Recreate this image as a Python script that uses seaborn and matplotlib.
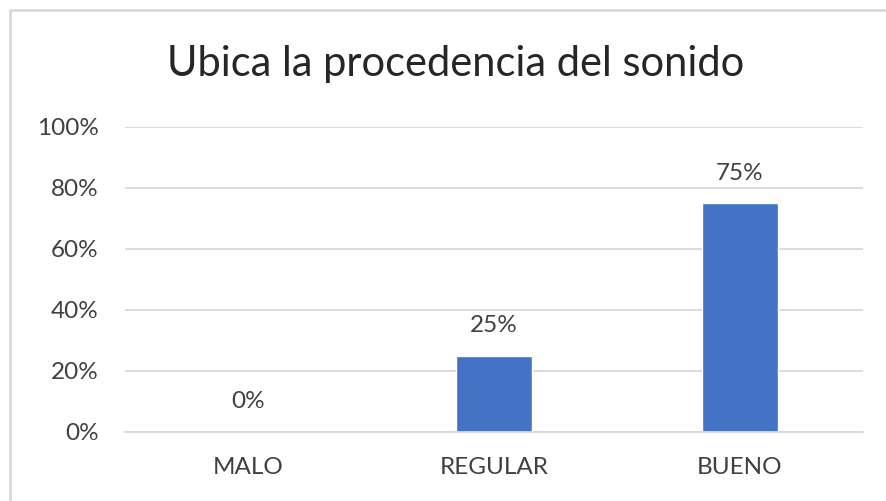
import matplotlib
matplotlib.use("Agg")
import matplotlib.pyplot as plt
import seaborn as sns
import pandas as pd
from matplotlib.lines import Line2D
from matplotlib.ticker import PercentFormatter

# === Data ===
categories = ["MALO", "REGULAR", "BUENO"]
values = [0, 25, 75]
labels = ["0%", "25%", "75%"]
yticks = [0, 20, 40, 60, 80, 100]

df = pd.DataFrame({"Categoria": categories, "Porcentaje": values})

sns.set_style("white")
plt.rcParams["font.family"] = ["Lato", "DejaVu Sans"]

fig = plt.figure(figsize=(8.86, 5.01), dpi=100)
ax = fig.add_axes([0.141, 0.138, 0.833, 0.609])

sns.barplot(data=df, x="Categoria", y="Porcentaje", color="#4472C4",
            width=0.31, saturation=1, ax=ax)

ax.set_ylim(0, 100)
ax.set_yticks(yticks)
ax.yaxis.set_major_formatter(PercentFormatter(decimals=0))
ax.grid(axis="y", color="#D9D9D9", linewidth=1.3)
ax.set_axisbelow(True)
for s in ["top", "right", "left"]:
    ax.spines[s].set_visible(False)
ax.spines["bottom"].set_color("#D9D9D9")
ax.spines["bottom"].set_linewidth(1.3)
ax.tick_params(axis="both", length=0, labelsize=17.5, labelcolor="#404040")
ax.tick_params(axis="y", pad=19)
ax.tick_params(axis="x", pad=18)
ax.set_xlabel("")
ax.set_ylabel("")

for i, (v, t) in enumerate(zip(values, labels)):
    ax.annotate(t, (i, v), xytext=(0, 14), textcoords="offset points",
                ha="center", va="bottom", fontsize=17.5, color="#404040")

fig.text(0.514, 0.872, "Ubica la procedencia del sonido", ha="center", va="center",
         fontsize=30, color="#262626")

# chart border (only top and left edges visible in the crop)
fig.lines.append(Line2D([10 / 886, 10 / 886, 1], [0, 1 - 10 / 501, 1 - 10 / 501],
                        transform=fig.transFigure, color="#D9D9D9", linewidth=2))

plt.savefig("out.png", dpi=100)
